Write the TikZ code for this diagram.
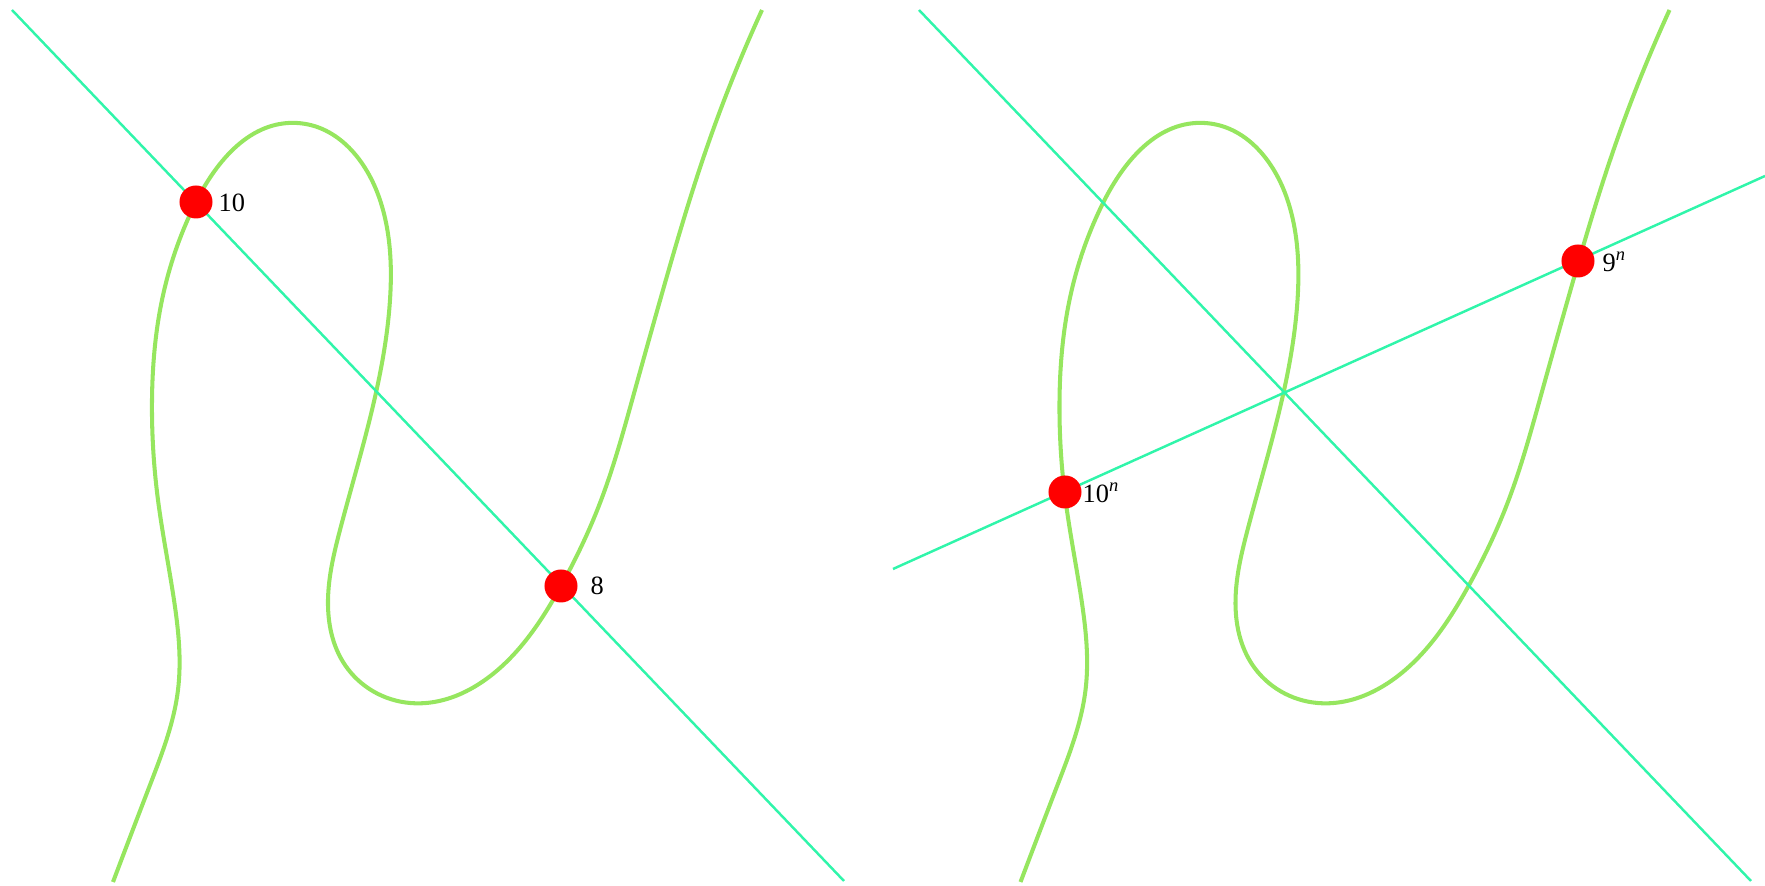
\documentclass[tikz,border=0pt]{standalone}
\usepackage{fontspec}
\setmainfont{Liberation Serif}
\usetikzlibrary{hobby}
\definecolor{linecol}{RGB}{48,245,170}
\definecolor{curvecol}{RGB}{150,230,95}
\tikzset{
  curveline/.style={draw=curvecol, line width=1.15pt, line join=round},
  secant/.style={draw=linecol, line width=0.7pt},
  dot/.style={circle, fill=red, inner sep=0pt, minimum size=0.33cm},
  lbl/.style={anchor=west, inner sep=0pt, font=\fontsize{7.5}{9}\selectfont},
}
\newcommand{\cubiccurve}{%
\draw[curveline, use Hobby shortcut] (113,882) .. (150,785) .. (178,690) .. (174,600) .. (158,500) .. (152,400) .. (162,300) .. (196,202) .. (297,123) .. (380,200) .. (390,300) .. (372,410) .. (340,530) .. (328,600) .. (345,665) .. (410,703) .. (500,668) .. (561,586) .. (600,503) .. (633,397) .. (663,290) .. (706,150) .. (762,10);}
\begin{document}
\begin{tikzpicture}[x=0.01cm, y=-0.01cm]
\useasboundingbox (0,0) rectangle (1765,886);
% curves
\cubiccurve
\begin{scope}[xshift=9.07cm]
\cubiccurve
\end{scope}
% line end points
\coordinate (LA) at (12,10);
\coordinate (LB) at (844,881);
\coordinate (RA) at (919,10);
\coordinate (RB) at (1751,881);
\coordinate (SA) at (893,569);
\coordinate (SB) at (1765,176);
\draw[secant] (LA) -- (LB);
\draw[secant] (RA) -- (RB);
\draw[secant] (SA) -- (SB);
% points
\node[dot] (p10) at (196,202) {};
\node[dot] (p8) at (561,586) {};
\node[dot] (q10) at (1065,492) {};
\node[dot] (q9) at (1578,261) {};
\node[lbl] (l10) at (218,203) {10};
\node[lbl] (l8) at (590,586) {8};
\node[lbl] (m10) at (1082,493) {10\textsuperscript{\textit{n}}};
\node[lbl] (m9) at (1602,262) {9\textsuperscript{\textit{n}}};
\end{tikzpicture}
\end{document}
